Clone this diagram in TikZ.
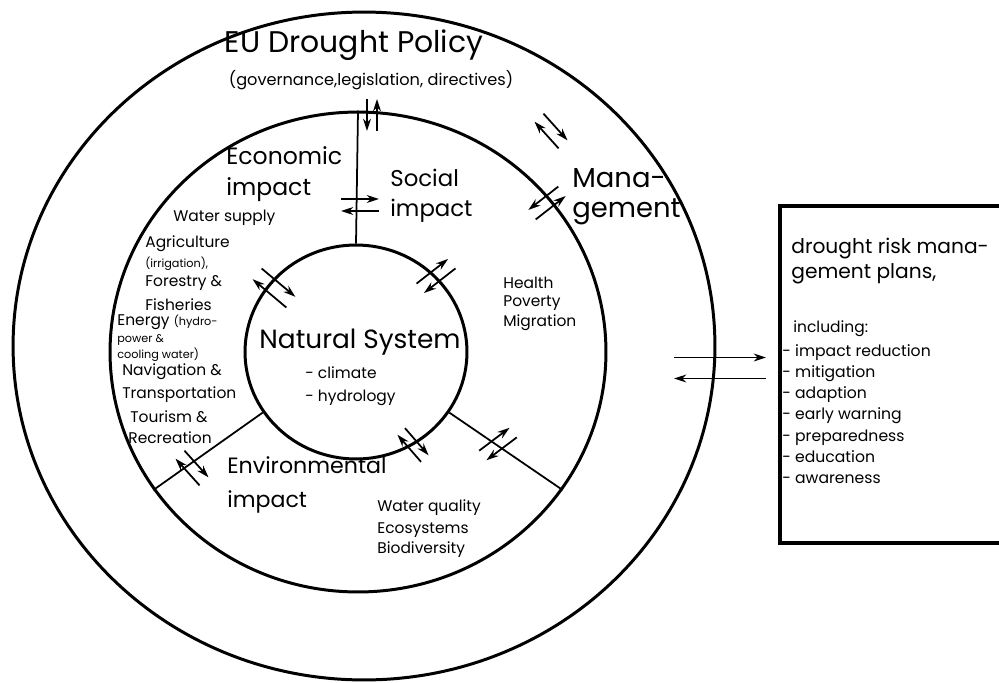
\documentclass[tikz,border=0pt]{standalone}
\usepackage{fontspec}
\setmainfont{Poppins}
\usetikzlibrary{positioning,shapes.geometric,arrows.meta}

\newcommand{\twoway}[5]{%
  \begin{scope}[shift={(#1,#2)}, rotate=#3]
    \draw[arr] ({-(#4)},{#5}) -- ({#4},{#5});
    \draw[arr] ({#4},{-(#5)}) -- ({-(#4)},{-(#5)});
  \end{scope}}

\begin{document}
\begin{tikzpicture}[
  x=0.02cm, y=-0.02cm,
  ring/.style={ellipse, draw, line width=1.7pt, inner sep=0pt},
  spoke/.style={line width=1pt},
  arr/.style={-{Stealth[length=7pt,width=4.5pt]}, line width=1pt},
  txt/.style={inner sep=0pt, anchor=west, align=left},
  titletext/.style={txt, anchor=center, font=\fontsize{17}{20}\selectfont},
  subtext/.style={txt, anchor=center, font=\fontsize{9.2}{11}\selectfont},
  headtext/.style={txt, font=\fontsize{13.4}{18}\selectfont},
  systext/.style={txt, anchor=center, font=\fontsize{15}{18}\selectfont},
  itemtext/.style={txt, font=\fontsize{8.8}{11}\selectfont},
  notetext/.style={txt, font=\fontsize{6.4}{8}\selectfont}
]
\clip (0,0) rectangle (999,682);

\node[ring, minimum width=14.04cm, minimum height=13.36cm] (outer) at (364,346) {};
\node[ring, minimum width=9.92cm, minimum height=9.6cm] (middle) at (358,352) {};
\node[ring, minimum width=4.44cm, minimum height=4.28cm] (inner) at (356,352) {};

\draw[spoke] (inner.north) -- (middle.north);
\draw[spoke] (inner.213) -- (middle.214);
\draw[spoke] (inner.-33) -- (middle.-34);

\node[draw, line width=2pt, inner sep=0pt, minimum width=4.6cm, minimum height=6.74cm] (plans) at (895,374.5) {};

\twoway{372}{115}{90}{16}{5}
\twoway{551}{131}{-48}{18}{-6}
\twoway{547}{203}{38}{19}{6}
\twoway{360}{205}{0}{19}{-6}
\twoway{274}{288}{-40}{22}{-7}
\twoway{436}{276}{38}{20}{-6}
\twoway{413}{445}{-49}{18}{-5}
\twoway{498}{444}{37}{19}{-6}
\twoway{192}{468}{-48}{18}{-6}
\twoway{720}{368}{0}{46}{-10.5}

\node[titletext] (policy) at (354,45) {EU Drought Policy};
\node[subtext] (policysub) at (371,80) {(governance,legislation, directives)};

\node[headtext, font=\fontsize{13.4}{18}\selectfont] (econ) at (226,174) {Economic\\impact};
\node[headtext, font=\fontsize{13}{17}\selectfont] (social) at (390,196) {Social\\impact};
\node[headtext, font=\fontsize{15.6}{17}\selectfont] (mgmt) at (572,197) {Mana-\\gement};
\node[headtext, font=\fontsize{12.6}{19}\selectfont] (env) at (227,485) {Environmental\\impact};

\node[systext] (natural) at (360,342) {Natural System};
\node[itemtext] (climate) at (305,373) {- climate};
\node[itemtext] (hydro) at (305,398) {- hydrology};

\node[itemtext] (water) at (173,218) {Water supply};
\node[itemtext] (agri) at (145,244) {Agriculture};
\node[notetext] (irri) at (145,264) {(irrigation),};
\node[itemtext] (forest) at (145,283) {Forestry \&};
\node[itemtext] (fish) at (145,305) {Fisheries};
\node[itemtext] (energy) at (117,322) {Energy {\fontsize{6.4}{8}\selectfont (hydro-}};
\node[notetext] (power) at (117,340) {power \&};
\node[notetext] (cooling) at (117,355) {cooling water)};
\node[itemtext] (navig) at (122,372) {Navigation \&};
\node[itemtext] (transp) at (122,395) {Transportation};
\node[itemtext] (tourism) at (130,417) {Tourism \&};
\node[itemtext] (recre) at (128,438) {Recreation};

\node[itemtext] (health) at (503,283) {Health};
\node[itemtext] (poverty) at (503,303) {Poverty};
\node[itemtext] (migration) at (503,323) {Migration};

\node[itemtext] (quality) at (377,508) {Water quality};
\node[itemtext] (ecosys) at (377,530) {Ecosystems};
\node[itemtext] (biodiv) at (377,550) {Biodiversity};

\node[headtext, font=\fontsize{11.5}{14.5}\selectfont] (planstitle) at (791,261) {drought risk mana-\\gement plans,};
\node[itemtext] (including) at (793,329) {including:};
\node[itemtext, font=\fontsize{8.9}{12.1}\selectfont] (measures) at (782,414)
  {- impact reduction\\- mitigation\\- adaption\\- early warning\\- preparedness\\- education\\- awareness};
\end{tikzpicture}
\end{document}
